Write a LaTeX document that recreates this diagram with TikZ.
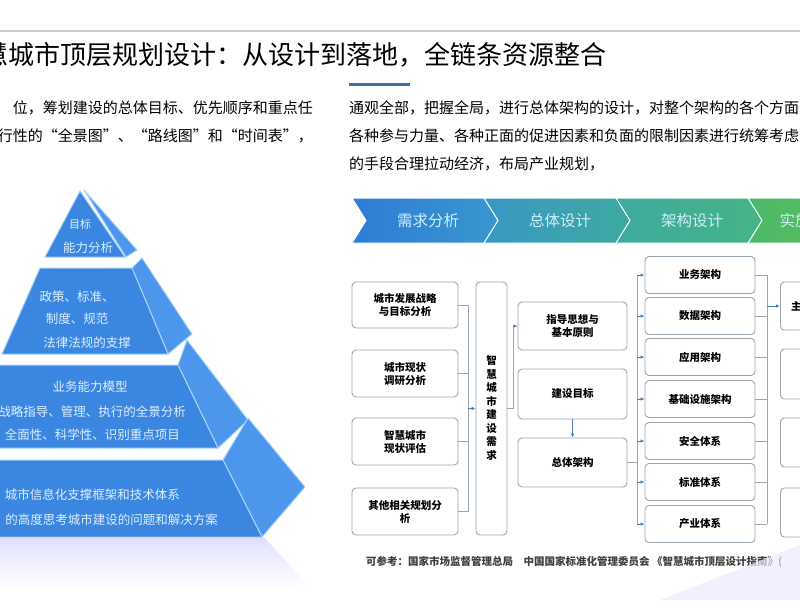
\documentclass[tikz,border=0pt]{standalone}
\usepackage{fontspec}
\setmainfont{Noto Sans CJK SC}
\usetikzlibrary{arrows.meta}
\definecolor{pfront}{HTML}{3B86E0}
\definecolor{pside}{HTML}{4C97EC}
\definecolor{pedge}{HTML}{A8D2FA}
\definecolor{ptext}{HTML}{DCEEFF}
\definecolor{bline}{HTML}{9AA6B0}
\definecolor{arr}{HTML}{4A7FB0}
\definecolor{ubar}{HTML}{3D6FA8}
\begin{document}
\begin{tikzpicture}[x=1pt,y=-1pt,
  front/.style={fill=pfront,draw=pedge,line width=1pt},
  side/.style={fill=pside,draw=pedge,line width=1pt},
  pt/.style={text=ptext,font=\fontsize{12.5}{14}\selectfont,inner sep=0pt},
  box/.style={draw=bline,rounded corners=4pt,line width=0.9pt,fill=white,font=\bfseries\fontsize{10.5}{13}\selectfont,align=center,inner sep=0pt},
  ln/.style={draw=bline,line width=0.9pt},
  ar/.style={ln,-{Latex[length=4pt,width=3.5pt]},arr},
  chev/.style={draw=white,line width=1pt},
  cl/.style={text=white!80!cyan,font=\fontsize{15.5}{18}\selectfont},
  body/.style={font=\fontsize{15}{17}\selectfont,inner sep=0pt}]
\useasboundingbox (0,0) rectangle (800,600);
\clip (0,0) rectangle (800,600);
\fill[white] (0,0) rectangle (800,600);
\draw[gray!40,line width=1.5pt] (0,31) -- (800,31);
% title
\node[anchor=west,inner sep=0pt,font=\fontsize{26}{30}\selectfont] (title) at (-18,55) {慧城市顶层规划设计：从设计到落地，全链条资源整合};
\fill[ubar] (349,83) rectangle (410,86);
% paragraphs
\node[body,anchor=east] (l1) at (313,108) {位，筹划建设的总体目标、优先顺序和重点任};
\node[body,anchor=east] (l2) at (313,136) {行性的“全景图”、“路线图”和“时间表”，};
\node[body,anchor=west] (r1) at (349,108) {通观全部，把握全局，进行总体架构的设计，对整个架构的各个方面};
\node[body,anchor=west] (r2) at (349,136) {各种参与力量、各种正面的促进因素和负面的限制因素进行统筹考虑};
\node[body,anchor=west] (r3) at (349,164) {的手段合理拉动经济，布局产业规划，};
% pyramid shadow
\shade[top color=blue!12,bottom color=white] (0,538) -- (265,538) -- (310,588) -- (0,588) -- cycle;
% pyramid layers
\draw[side] (84,190) -- (137,250) -- (126,257) -- cycle;
\draw[front] (80,191) -- (125,257) -- (45,257) -- cycle;
\draw[side] (132,268) -- (142,258) -- (192,334) -- (168,354) -- cycle;
\draw[front] (40,268) -- (132,268) -- (168,354) -- (2,354) -- cycle;
\draw[side] (178,365) -- (187,340) -- (248,420) -- (218,448) -- cycle;
\draw[front] (-5,365) -- (178,365) -- (218,448) -- (-5,448) -- cycle;
\draw[side] (223,460) -- (248,418) -- (305,487) -- (262,537) -- cycle;
\draw[front] (-5,460) -- (223,460) -- (262,537) -- (-5,537) -- cycle;
\node[pt,font=\fontsize{11}{13}\selectfont] (p1a) at (80,224) {目标};
\node[pt] (p1b) at (88,248) {能力分析};
\node[pt] (p2a) at (77,297) {政策、标准、};
\node[pt] (p2b) at (77,319) {制度、规范};
\node[pt] (p2c) at (87,343) {法律法规的支撑};
\node[pt] (p3a) at (90,387) {业务能力模型};
\node[pt,anchor=east] (p3b) at (186,412) {战略指导、管理、执行的全景分析};
\node[pt,anchor=east] (p3c) at (180,435) {全面性、科学性、识别重点项目};
\node[pt,anchor=east] (p4a) at (180,495) {城市信息化支撑框架和技术体系};
\node[pt,anchor=east] (p4b) at (218,520) {的高度思考城市建设的问题和解决方案};
% chevrons
\foreach \i/\ca/\cb/\t in {0/2E7CD8/3A98CC/需求分析,1/3A98C4/3EAA9E/总体设计,2/3EAA9E/45B585/架构设计}{
  \pgfmathsetmacro\xo{352+132*\i}
  \definecolor{ca}{HTML}{\ca}\definecolor{cb}{HTML}{\cb}
  \shade[left color=ca,right color=cb,chev] (\xo,198) -- (\xo+138,198) -- (\xo+152,220.5) -- (\xo+138,243) -- (\xo,243) -- (\xo+14,220.5) -- cycle;
  \node[cl] (ch\i) at (\xo+76,220.5) {\t};
}
\definecolor{ca}{HTML}{4CB86C}\definecolor{cb}{HTML}{62C150}
\shade[left color=ca,right color=cb,chev] (748,198) -- (886,198) -- (900,220.5) -- (886,243) -- (748,243) -- (762,220.5) -- cycle;
\node[cl,anchor=west] (ch3) at (776,220.5) {实施};
% left column
\node[box,minimum width=106pt,minimum height=46pt] (a1) at (405,305) {城市发展战略\\与目标分析};
\node[box,minimum width=106pt,minimum height=47pt] (a2) at (405,373.5) {城市现状\\调研分析};
\node[box,minimum width=106pt,minimum height=47pt] (a3) at (405,441.5) {智慧城市\\现状评估};
\node[box,minimum width=106pt,minimum height=47pt] (a4) at (405,511.5) {其他相关规划分\\析};
\node[box,minimum width=31pt,minimum height=253pt] (t) at (491.5,408.5) {};
\node[font=\bfseries\fontsize{10.5}{13.5}\selectfont,align=center,inner sep=0pt] (tt) at (491.5,408) {智\\慧\\城\\市\\建\\设\\需\\求};
\coordinate (j1) at (468,305); \coordinate (j4) at (468,511.5); \coordinate (jm) at (468,408.5);
\foreach \n in {a1,a2,a3,a4} \draw[ln] (\n.east) -- (\n.east -| jm);
\draw[ln] (j1) -- (j4);
\draw[ar] (jm) -- (t.west);
% middle column
\node[box,minimum width=109pt,minimum height=48pt] (m1) at (572.5,326) {指导思想与\\基本原则};
\node[box,minimum width=109pt,minimum height=50pt] (m2) at (572.5,394) {建设目标};
\node[box,minimum width=109pt,minimum height=49pt] (m3) at (572.5,462.5) {总体架构};
\coordinate (k1) at (513,408.5); \coordinate (k2) at (513,326);
\draw[ln] (t.east |- k1) -- (k1) -- (k2);
\draw[ar] (k2) -- (m1.west);
\draw[ar] (m2.south) -- (m3.north);
% right column
\foreach \n/\yy/\t in {1/275/业务架构,2/316/数据架构,3/357/应用架构,4/399/基础设施架构,5/441/安全体系,6/482/标准体系,7/524/产业体系}{
  \node[box,minimum width=110pt,minimum height=37pt] (b\n) at (700,\yy) {\t};
}
\coordinate (c0) at (637,462.5); \coordinate (ct) at (637,275); \coordinate (cb) at (637,524);
\draw[ln] (m3.east) -- (c0);
\draw[ln] (ct) -- (cb);
\foreach \n in {1,...,7} \draw[ar] (b\n.west -| ct) -- (b\n.west);
\coordinate (dt) at (767,275); \coordinate (db) at (767,524); \coordinate (dm) at (767,306);
\foreach \n in {1,...,7} \draw[ln] (b\n.east) -- (b\n.east -| dt);
\draw[ln] (dt) -- (db);
% far right boxes
\node[box,minimum width=60pt,minimum height=48pt,anchor=west] (e1) at (780,306) {\hspace*{-28pt}主};
\node[box,minimum width=60pt,minimum height=50pt,anchor=west] (e2) at (780,374) {};
\node[box,minimum width=60pt,minimum height=49pt,anchor=west] (e3) at (780,442.5) {};
\node[box,minimum width=60pt,minimum height=49pt,anchor=west] (e4) at (780,512.5) {};
\draw[ar] (dm) -- (e1.west);
% footnote
\node[anchor=west,inner sep=0pt,font=\bfseries\fontsize{10.5}{12}\selectfont,text=black!75] (fn) at (366,562) {可参考：国家市场监督管理总局\quad 中国国家标准化管理委员会 《智慧城市顶层设计指南》(};
\fill[blue!8,opacity=0.7] (660,600) -- (800,545) -- (800,600) -- cycle;
\end{tikzpicture}
\end{document}
